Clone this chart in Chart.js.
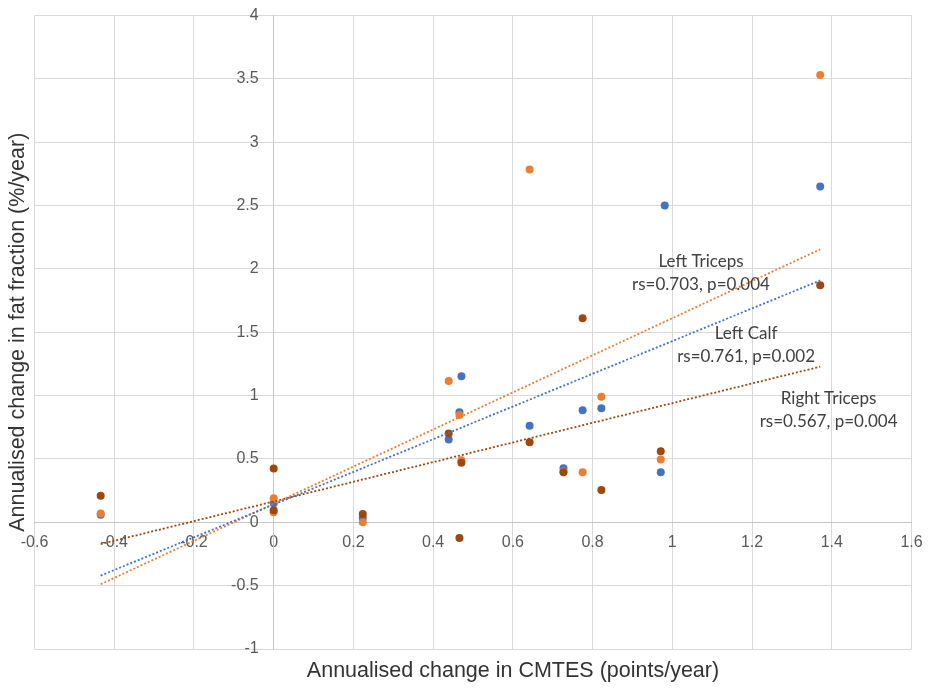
<!DOCTYPE html>
<html>
<head>
<meta charset="utf-8">
<script src="https://cdn.jsdelivr.net/npm/chart.js@4.4.1/dist/chart.umd.min.js"></script>
<style>
  html, body { margin: 0; padding: 0; background: #ffffff; }
  #wrap { width: 928px; height: 688px; }
</style>
</head>
<body>
<div id="wrap"><canvas id="chart"></canvas></div>
<script>
// Annualised change in CMTES (points/year) per patient, and fat-fraction change (%/year)
const cmtesCalf      = [-0.434, 0, 0.2235, 0.439, 0.466, 0.471, 0.642, 0.727, 0.775, 0.822, 0.971, 0.981, 1.371];
const leftCalf       = [0.06, 0.15, 0.034, 0.653, 0.868, 1.152, 0.763, 0.426, 0.884, 0.90, 0.395, 2.5, 2.65];

const cmtesTriceps   = [-0.434, 0, 0, 0.2235, 0.439, 0.466, 0.471, 0.642, 0.727, 0.775, 0.822, 0.971, 1.371];
const leftTriceps    = [0.07, 0.19, 0.08, 0.0, 1.115, 0.847, 0.49, 2.785, 0.40, 0.395, 0.99, 0.495, 3.53];
const rightTriceps   = [0.21, 0.425, 0.095, 0.066, 0.70, -0.124, 0.47, 0.631, 0.395, 1.61, 0.255, 0.56, 1.87];

const seriesNames    = ['Left Calf', 'Left Triceps', 'Right Triceps'];
const statLabels     = ['rs=0.761, p=0.002', 'rs=0.703, p=0.004', 'rs=0.567, p=0.004'];

const xTickValues    = [-0.6, -0.4, -0.2, 0, 0.2, 0.4, 0.6, 0.8, 1, 1.2, 1.4, 1.6];
const yTickValues    = [-1, -0.5, 0, 0.5, 1, 1.5, 2, 2.5, 3, 3.5, 4];

const xTitle = 'Annualised change in CMTES (points/year)';
const yTitle = 'Annualised change in fat fraction (%/year)';

const colors = ['#4472C4', '#ED7D31', '#9E480E'];

// Where each series' label sits, in data units (centre of the two-line block)
const labelAnchors = [
  { x: 1.185, y: 1.40 },
  { x: 1.072, y: 1.965 },
  { x: 1.392, y: 0.885 }
];

function toPoints(xs, ys) { return xs.map((x, i) => ({ x: x, y: ys[i] })); }

// Ordinary least-squares fit, drawn from the smallest to the largest x
function linearTrend(xs, ys) {
  const n = xs.length;
  const mx = xs.reduce((a, b) => a + b, 0) / n;
  const my = ys.reduce((a, b) => a + b, 0) / n;
  let sxy = 0, sxx = 0;
  for (let i = 0; i < n; i++) { sxy += (xs[i] - mx) * (ys[i] - my); sxx += (xs[i] - mx) ** 2; }
  const slope = sxy / sxx, icpt = my - slope * mx;
  const x0 = Math.min(...xs), x1 = Math.max(...xs);
  return [{ x: x0, y: icpt + slope * x0 }, { x: x1, y: icpt + slope * x1 }];
}

const groups = [
  { xs: cmtesCalf, ys: leftCalf },
  { xs: cmtesTriceps, ys: leftTriceps },
  { xs: cmtesTriceps, ys: rightTriceps }
];

// brown on top, then orange, then blue; trend lines above the dots
const dotOrder = [3, 2, 1];
const datasets = [];
groups.forEach((g, i) => {
  datasets.push({
    type: 'scatter', label: seriesNames[i], data: toPoints(g.xs, g.ys),
    backgroundColor: colors[i], borderColor: colors[i], borderWidth: 0,
    pointRadius: 4, pointHoverRadius: 4, order: dotOrder[i]
  });
});
groups.forEach((g, i) => {
  datasets.push({
    type: 'line', label: seriesNames[i] + ' trend', data: linearTrend(g.xs, g.ys),
    borderColor: colors[i], borderWidth: 1.8, borderDash: [2, 2],
    pointRadius: 0, fill: false, order: 0
  });
});

const fmt = v => String(Math.round(v * 10) / 10);
const tickFont = { family: '"Liberation Sans", Arial, sans-serif', size: 16 };

const overlay = {
  id: 'overlay',
  afterDatasetsDraw(chart) {
    const { ctx, chartArea: a, scales } = chart;
    ctx.save();
    // value labels of the vertical axis, set left of the x = 0 line
    const axisX = scales.x.getPixelForValue(0);
    ctx.fillStyle = '#595959';
    ctx.font = '16px "Liberation Sans", Arial, sans-serif';
    ctx.textAlign = 'right';
    ctx.textBaseline = 'middle';
    yTickValues.forEach(v => ctx.fillText(fmt(v), axisX - 15, scales.y.getPixelForValue(v)));
    // series labels
    ctx.fillStyle = '#404040';
    ctx.font = '17px Lato';
    ctx.textAlign = 'center';
    labelAnchors.forEach((p, i) => {
      const px = scales.x.getPixelForValue(p.x);
      const py = scales.y.getPixelForValue(p.y);
      ctx.fillText(seriesNames[i], px, py - 11.5);
      ctx.fillText(statLabels[i], px, py + 11.5);
    });
    // axis titles
    ctx.fillStyle = '#333333';
    ctx.font = '21.5px "Liberation Sans", Arial, sans-serif';
    ctx.fillText(xTitle, (a.left + a.right) / 2 + 40, a.bottom + 22);
    ctx.translate(18, (a.top + a.bottom) / 2);
    ctx.rotate(-Math.PI / 2);
    ctx.fillText(yTitle, 0, 0);
    ctx.restore();
  }
};

// the horizontal axis sits inside the plot, so its end labels need no extra room
const noEdgePadding = s => { s.paddingLeft = 0; s.paddingRight = 0; s.paddingTop = 0; s.paddingBottom = 0; };

new Chart(document.getElementById('chart'), {
  data: { datasets: datasets },
  options: {
    responsive: true,
    maintainAspectRatio: false,
    animation: false,
    events: [],
    layout: { padding: { left: 34.5, top: 15.5, right: 16.5, bottom: 39 } },
    plugins: { legend: { display: false }, tooltip: { enabled: false } },
    scales: {
      x: {
        type: 'linear', min: -0.6, max: 1.6,
        position: { y: 0 },
        afterBuildTicks: s => { s.ticks = xTickValues.map(v => ({ value: v })); },
        afterFit: noEdgePadding,
        grid: { color: '#d9d9d9', lineWidth: 1, drawTicks: false },
        border: { display: true, color: '#c6c6c6', width: 1 },
        ticks: { padding: 11, color: '#595959', font: tickFont, maxRotation: 0, autoSkip: false, callback: fmt }
      },
      y: {
        type: 'linear', min: -1, max: 4,
        position: { x: 0 },
        afterBuildTicks: s => { s.ticks = yTickValues.map(v => ({ value: v })); },
        afterFit: noEdgePadding,
        grid: { color: '#d9d9d9', lineWidth: 1, drawTicks: false },
        border: { display: true, color: '#c6c6c6', width: 1 },
        ticks: { display: false, font: tickFont }
      }
    }
  },
  plugins: [overlay]
});
</script>
</body>
</html>
